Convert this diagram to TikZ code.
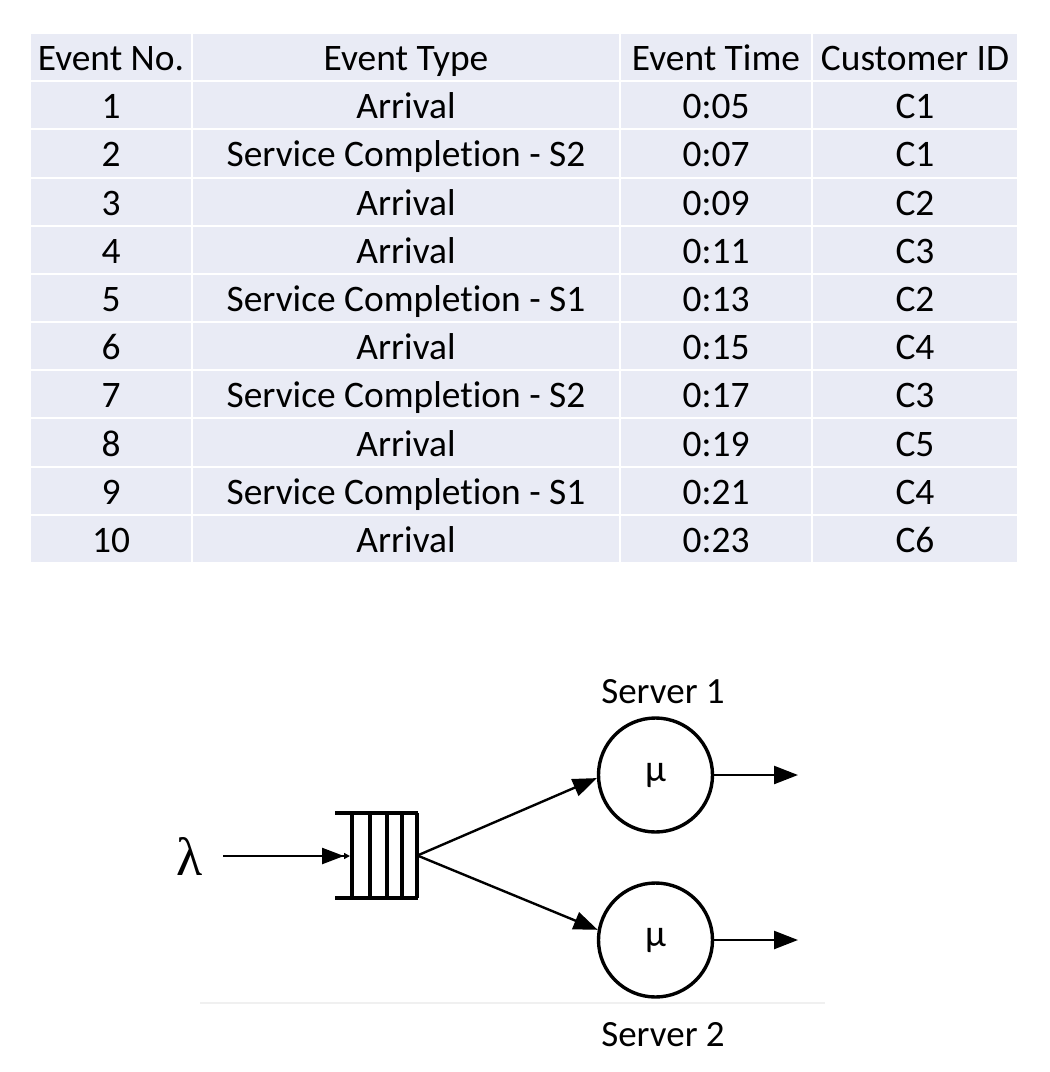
\documentclass[tikz,border=0pt]{standalone}
\usepackage{fontspec}
\setmainfont[Ligatures=NoCommon]{Carlito}
\newfontfamily\lamfont{Liberation Serif}
\usepackage{tikz}
\usepackage{xcolor}
\usetikzlibrary{arrows.meta, calc}
\definecolor{cellfill}{HTML}{E9EBF5}

\tikzset{
    cell/.style={fill=cellfill, draw=white, line width=1pt, minimum height=24.09pt, inner sep=0pt,
        text height=14pt, text depth=0.5pt, font=\fontsize{18.7}{22}\selectfont},
    server/.style={circle, draw, line width=1.7pt, minimum size=57pt, inner sep=0pt,
        font=\fontsize{19}{22}\selectfont},
    flow/.style={-{Triangle[length=12pt, width=9pt]}, line width=1.2pt},
    lbl/.style={font=\fontsize{18.5}{22}\selectfont}
}

\begin{document}
\begin{tikzpicture}[x=0.5pt, y=-0.5pt]
                        \useasboundingbox (0, 0) rectangle (1050, 1072);
                        % event table
                        \foreach \no/\type/\time/\cust [count=\r] in {
                            Event No./Event Type/Event Time/Customer ID,
                            1/Arrival/0:05/C1,
                            2/Service Completion - S2/0:07/C1,
                            3/Arrival/0:09/C2,
                            4/Arrival/0:11/C3,
                            5/Service Completion - S1/0:13/C2,
                            6/Arrival/0:15/C4,
                            7/Service Completion - S2/0:17/C3,
                            8/Arrival/0:19/C5,
                            9/Service Completion - S1/0:21/C4,
                            10/Arrival/0:23/C6} {
                            \pgfmathsetmacro\ry{33 + 48.18*(\r - 0.5)}
                            \node[cell, minimum width=81pt] (no\r) at (111, \ry) {\no};
                            \node[cell, minimum width=214pt] (type\r) at (406, \ry) {\type};
                            \node[cell, minimum width=96pt] (time\r) at (716, \ry) {\time};
                            \node[cell, minimum width=103pt] (cust\r) at (915, \ry) {\cust};
                        }
                        % queue with two servers
                        \node[inner xsep=10pt, font=\lamfont\fontsize{27}{30}\selectfont] (lam) at (190, 856) {λ};
                        \coordinate (qin) at (350, 856);
                        \node[minimum width=32.5pt, minimum height=42.5pt, inner sep=0pt] (queue) at (384.5, 855.5) {};
                        \node[server] (s1) at (655.5, 775) {μ};
                        \node[server] (s2) at (655.5, 940) {μ};
                        \node[lbl] (lab1) at (663, 692) {Server 1};
                        \node[lbl] (lab2) at (663, 1035) {Server 2};
                        \coordinate (o1) at (798, 775);
                        \coordinate (o2) at (798, 940);
                        \draw[line width=1.7pt]
                        (335, 813) -- (418, 813)
                        (335, 898) -- (418, 898);
                        \foreach \qx in {352, 370, 387, 402, 417}
                            \draw[line width=1.7pt] (\qx, 813) -- (\qx, 898);
                        \draw[line width=1.2pt, -{Triangle[length=11pt, width=8pt] Triangle[length=3pt, width=3pt]}]
                        (lam.east) -- (qin);
                        \draw[flow] (queue.east) -- (s1.183);
                        \draw[flow] (queue.east) -- (s2.170);
                        \draw[flow] (s1.east) -- (o1);
                        \draw[flow] (s2.east) -- (o2);
                        \draw[gray!12, line width=1pt] (200, 1003) -- (825, 1003);
                    \end{tikzpicture}
\end{document}
